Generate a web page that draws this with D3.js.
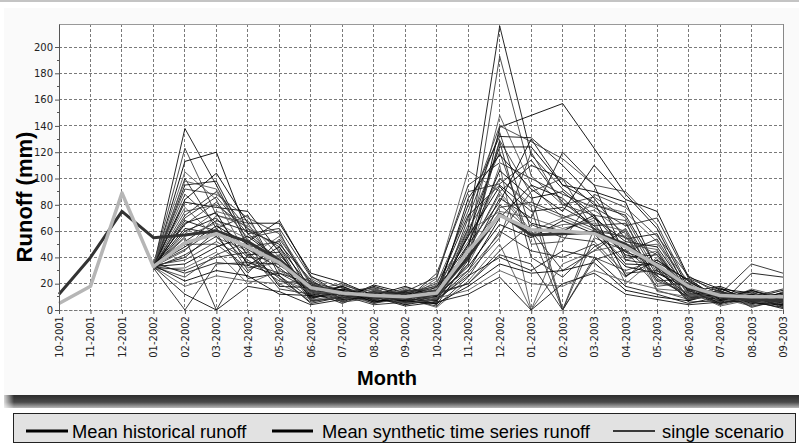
<!DOCTYPE html>
<html>
<head>
<meta charset="utf-8">
<script src="https://cdn.jsdelivr.net/npm/d3@7"></script>
<style>
  html, body { margin: 0; padding: 0; background: #ffffff; }
  svg { display: block; }
</style>
</head>
<body>
<svg id="chart" width="799" height="443"></svg>
<script>
// ---------- DATA ----------
const months = ["10-2001","11-2001","12-2001","01-2002","02-2002","03-2002","04-2002","05-2002","06-2002","07-2002","08-2002","09-2002",
                "10-2002","11-2002","12-2002","01-2003","02-2003","03-2003","04-2003","05-2003","06-2003","07-2003","08-2003","09-2003"];
const yTicks = [0,20,40,60,80,100,120,140,160,180,200];

// Mean historical runoff (dark line)
const meanHistorical = [12,40,75,55,57,60,52,38,18,13,10,9,12,40,73,57,58,59,50,33,17,10,8,7];
// Mean synthetic time series runoff (light grey line)
const meanSynthetic = [5,18,89,33,51,58,48,36,17,13,11,10,13,45,72,61,60,58,48,34,18,11,10,10];

// Single scenarios, starting at 01-2002
const scenarioStart = 3;
const scenarios = [
[33,138,95,48,52,12,18,9,14,6,62,216,118,92,72,44,36,10,14,7,12],
[34,123,72,66,30,22,8,14,5,18,44,193,102,80,86,70,28,20,6,12,4],
[33,113,120,58,38,14,15,6,11,9,35,139,148,157,123,88,62,16,12,9,15],
[35,105,84,40,56,19,7,12,8,22,55,148,95,70,60,38,45,8,15,4,9],
[32,100,62,72,26,9,13,17,6,5,70,135,60,30,45,62,22,24,7,14,3],
[33,95,98,52,68,26,11,7,15,14,80,132,131,110,85,54,58,13,10,8,13],
[34,88,66,30,42,15,20,10,4,11,48,129,88,0,40,30,38,18,5,11,6],
[33,82,78,75,44,11,9,19,13,7,58,124,124,95,90,82,30,11,17,6,10],
[36,78,55,45,20,24,12,5,9,16,40,110,0,60,70,48,50,22,9,3,7],
[33,72,90,62,48,8,16,11,7,28,90,96,114,82,64,66,26,9,12,35,28],
[31,68,60,36,35,18,6,15,12,4,38,85,70,120,95,40,42,15,4,28,25],
[34,65,82,55,60,13,14,8,17,13,65,120,50,52,88,78,56,26,11,9,5],
[33,62,58,24,28,20,10,13,6,8,30,70,95,85,62,35,34,7,16,13,8],
[32,58,75,68,40,16,17,6,10,19,52,100,80,70,76,58,20,19,8,5,11],
[33,55,0,42,24,6,11,16,8,3,25,60,45,40,50,25,44,12,13,10,2],
[35,52,68,60,50,23,8,9,14,12,45,90,110,100,80,72,32,6,7,15,9],
[33,50,50,32,36,10,19,12,5,9,35,80,60,0,55,45,18,21,10,4,14],
[34,48,64,50,18,17,9,18,11,15,50,106,85,90,70,52,48,14,18,9,6],
[33,45,72,64,46,7,13,7,16,6,60,75,70,62,68,20,40,17,6,16,10],
[32,42,56,28,54,21,15,11,7,10,42,128,40,25,48,60,24,10,11,7,4],
[33,40,60,46,32,14,5,14,12,17,72,95,75,78,64,42,36,23,9,12,8],
[34,38,52,38,22,19,12,8,6,7,28,55,120,80,72,68,15,8,14,6,12],
[33,35,48,56,38,9,16,10,13,11,33,65,55,68,58,33,28,16,5,10,3],
[31,32,44,20,30,16,7,15,9,2,22,50,0,35,45,50,46,11,12,3,7],
[33,30,40,44,16,12,14,5,11,13,20,45,65,55,52,28,30,20,8,11,9],
[36,28,36,34,26,5,10,12,4,8,26,40,30,45,40,18,12,5,10,6,2],
[33,25,42,52,34,18,6,9,15,14,30,58,90,100,60,56,22,13,4,9,11],
[34,22,30,26,12,11,18,7,7,5,18,35,28,30,36,15,10,7,13,5,4],
[33,18,26,22,20,8,9,13,10,9,15,30,20,18,30,22,16,14,3,8,6],
[32,0,35,36,28,15,11,4,6,12,20,42,35,0,38,46,26,9,15,2,8],
[33,12,0,18,14,4,8,10,3,6,12,25,0,20,28,12,8,4,6,7,1],
[34,92,88,70,58,20,14,17,12,20,75,140,128,115,95,90,65,18,12,14,10],
[33,84,104,66,66,28,21,11,18,10,85,118,92,75,110,84,75,25,16,8,13],
[35,98,92,50,40,13,10,16,9,24,106,90,60,70,80,74,52,12,9,13,6],
[33,70,86,58,62,25,17,8,14,25,95,112,100,88,78,64,70,24,14,10,16],
[32,60,70,42,44,10,13,12,8,7,50,82,130,95,82,38,34,17,7,12,5],
[34,75,80,62,34,21,7,14,11,15,62,100,78,0,62,55,42,8,11,6,9],
[33,66,74,34,48,17,15,6,10,11,56,94,66,60,72,26,38,22,8,15,7],
[33,56,66,54,24,14,12,11,5,8,46,88,58,65,66,60,14,10,13,4,11],
[34,46,62,40,38,7,9,13,13,18,44,78,82,72,62,44,54,15,5,10,3]
];

const legendItems = ["Mean historical runoff","Mean synthetic time series runoff","single scenario"];

// ---------- DRAW ----------
const svg = d3.select("#chart");
const W = 799, H = 443;
const plot = {left: 59, right: 783, top: 24, bottom: 310};

const x = d3.scalePoint().domain(months).range([plot.left, plot.right]);
const y = d3.scaleLinear().domain([0, 217.5]).range([plot.bottom, plot.top]);

// frame / background
svg.append("rect").attr("x",0).attr("y",0).attr("width",W).attr("height",2).attr("fill","#c4c4c4");
svg.append("rect").attr("x",4).attr("y",8).attr("width",W-4).attr("height",387).attr("fill","#fafafa");

const defs = svg.append("defs");
const g1 = defs.append("linearGradient").attr("id","shadowV").attr("x1",0).attr("y1",0).attr("x2",0).attr("y2",1);
g1.append("stop").attr("offset","0%").attr("stop-color","#2c2c2c");
g1.append("stop").attr("offset","55%").attr("stop-color","#4a4a4a");
g1.append("stop").attr("offset","100%").attr("stop-color","#b8b8b8");
const g2 = defs.append("linearGradient").attr("id","shadowH").attr("x1",0).attr("y1",0).attr("x2",1).attr("y2",0);
g2.append("stop").attr("offset","0%").attr("stop-color","#ffffff").attr("stop-opacity",0.8);
g2.append("stop").attr("offset","100%").attr("stop-color","#ffffff").attr("stop-opacity",0);
svg.append("rect").attr("x",4).attr("y",395).attr("width",W-4).attr("height",13).attr("fill","url(#shadowV)");
svg.append("rect").attr("x",4).attr("y",395).attr("width",10).attr("height",13).attr("fill","url(#shadowH)");

svg.append("rect").attr("x",plot.left).attr("y",plot.top)
   .attr("width",plot.right-plot.left).attr("height",plot.bottom-plot.top).attr("fill","#ffffff");

// grid
const grid = svg.append("g");
grid.selectAll("line.h").data(yTicks).join("line")
  .attr("x1",plot.left).attr("x2",plot.right)
  .attr("y1",d=>y(d)).attr("y2",d=>y(d))
  .attr("stroke","#7a7a7a").attr("stroke-width",1).attr("stroke-dasharray","3,2")
  .attr("shape-rendering","crispEdges");
grid.selectAll("line.v").data(months).join("line")
  .attr("x1",d=>x(d)).attr("x2",d=>x(d))
  .attr("y1",plot.top).attr("y2",plot.bottom)
  .attr("stroke","#7a7a7a").attr("stroke-width",1).attr("stroke-dasharray","3,2")
  .attr("shape-rendering","crispEdges");

// border top/right
svg.append("line").attr("x1",plot.left).attr("x2",plot.right).attr("y1",plot.top).attr("y2",plot.top)
  .attr("stroke","#999").attr("shape-rendering","crispEdges");
svg.append("line").attr("x1",plot.right).attr("x2",plot.right).attr("y1",plot.top).attr("y2",plot.bottom)
  .attr("stroke","#888").attr("shape-rendering","crispEdges");

// scenarios
const scenarioMonths = months.slice(scenarioStart);
const line = d3.line().x(d=>x(d.m)).y(d=>y(d.v));
const scColors = ["#111111","#3c3c3c","#000000","#585858","#262626"];
svg.append("g").selectAll("path").data(scenarios).join("path")
  .attr("d", s => line(s.map((v,i)=>({m: scenarioMonths[i], v}))))
  .attr("fill","none")
  .attr("stroke",(d,i)=>scColors[i%scColors.length])
  .attr("stroke-width",0.9);

// mean lines
svg.append("path")
  .attr("d", line(meanHistorical.map((v,i)=>({m: months[i], v}))))
  .attr("fill","none").attr("stroke","#333333").attr("stroke-width",3).attr("stroke-linejoin","round");
svg.append("path")
  .attr("d", line(meanSynthetic.map((v,i)=>({m: months[i], v}))))
  .attr("fill","none").attr("stroke","#b6b6b6").attr("stroke-width",3.5).attr("stroke-linejoin","round");

// axes
const yAxis = svg.append("g").attr("transform",`translate(${plot.left},0)`)
  .call(d3.axisLeft(y).tickValues(yTicks).tickSize(4).tickSizeOuter(0).tickPadding(2));
yAxis.select(".domain").attr("stroke","#555");
yAxis.selectAll(".tick line").attr("stroke","#555");
yAxis.selectAll("text").attr("font-family","DejaVu Sans, sans-serif").attr("font-size","10px").attr("fill","#222");
// minor ticks
svg.append("g").selectAll("line").data(d3.range(10,210,20)).join("line")
  .attr("x1",plot.left-2).attr("x2",plot.left).attr("y1",d=>y(d)).attr("y2",d=>y(d))
  .attr("stroke","#555").attr("shape-rendering","crispEdges");

const xAxis = svg.append("g").attr("transform",`translate(0,${plot.bottom})`)
  .call(d3.axisBottom(x).tickSize(4).tickSizeOuter(0).tickPadding(2));
xAxis.select(".domain").attr("stroke","#777").attr("stroke-dasharray","3,2");
xAxis.selectAll(".tick line").attr("stroke","#555");
xAxis.selectAll("text")
  .attr("font-family","DejaVu Sans, sans-serif").attr("font-size","10px").attr("fill","#222")
  .attr("text-anchor","end")
  .attr("transform","rotate(-90)")
  .attr("x",-6).attr("y",0).attr("dy","0.35em");

// axis titles
svg.append("text").attr("x",387).attr("y",385).attr("text-anchor","middle")
  .attr("font-family","Liberation Sans, Arial, sans-serif").attr("font-weight","bold").attr("font-size","20px")
  .attr("fill","#000").text("Month");
svg.append("text").attr("transform","translate(32,197) rotate(-90)").attr("text-anchor","middle")
  .attr("font-family","Liberation Sans, Arial, sans-serif").attr("font-weight","bold").attr("font-size","22px")
  .attr("fill","#000").text("Runoff (mm)");

// legend
const lg = svg.append("g");
lg.append("rect").attr("x",13.5).attr("y",413.5).attr("width",782).attr("height",29)
  .attr("fill","#e2e2e2").attr("stroke","#222").attr("stroke-width",1);
const legendPos = [{x1:26,x2:68,tx:72,w:3},{x1:272,x2:313,tx:322,w:3},{x1:613,x2:655,tx:662,w:1.3}];
legendItems.forEach((t,i)=>{
  const p = legendPos[i];
  lg.append("line").attr("x1",p.x1).attr("x2",p.x2).attr("y1",431).attr("y2",431)
    .attr("stroke","#000").attr("stroke-width",p.w);
  lg.append("text").attr("x",p.tx).attr("y",437.5)
    .attr("font-family","Liberation Sans, Arial, sans-serif").attr("font-size","18.3px").attr("fill","#000")
    .text(t);
});
</script>
</body>
</html>
